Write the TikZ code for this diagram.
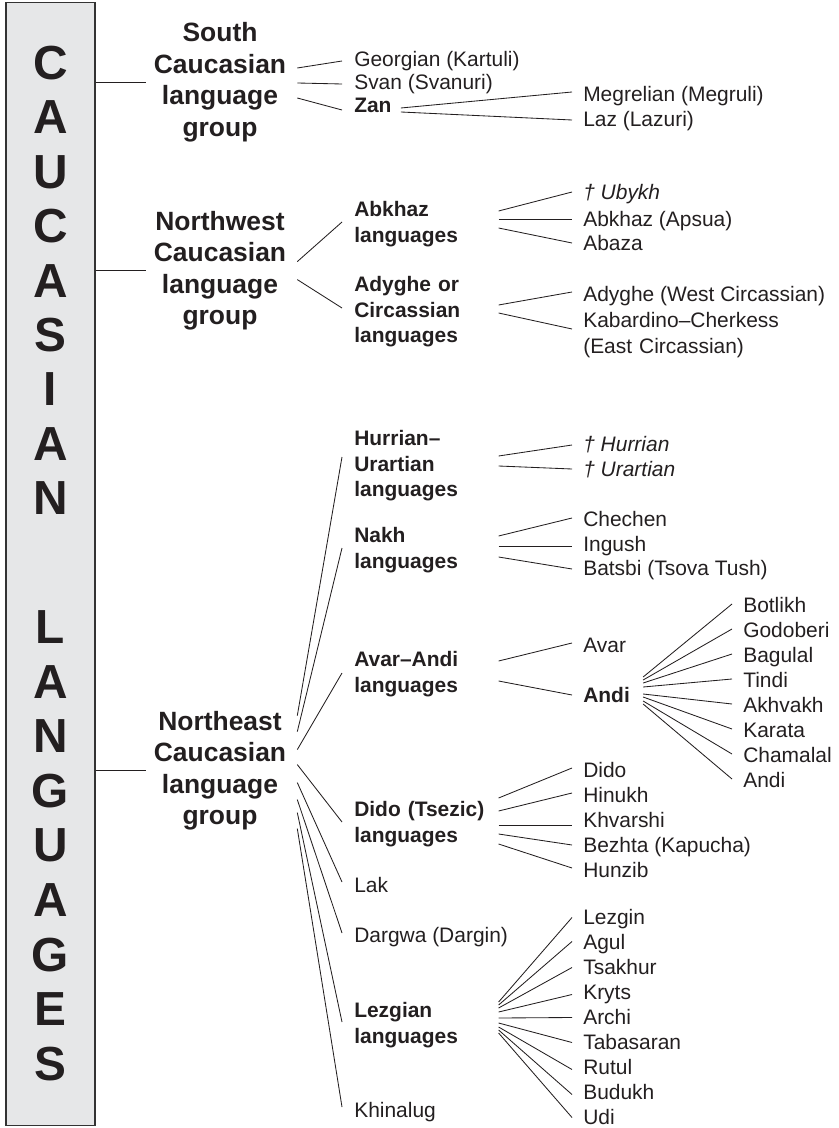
\documentclass[tikz,border=0pt]{standalone}
\usepackage{fontspec}
\setmainfont{Liberation Sans}
\usepackage{xcolor}
\usetikzlibrary{calc}

\definecolor{ink}{HTML}{231F20}
\definecolor{boxgray}{HTML}{E6E7E8}

\tikzset{
  letter/.style={font=\fontsize{34}{40}\selectfont\bfseries, text=ink, inner sep=0pt},
  grp/.style={font=\fontsize{18.8}{22.4}\selectfont\bfseries, text=ink, align=center, text width=3.6cm, inner sep=0pt},
  sub/.style={font=\fontsize{14.9}{18.1}\selectfont\bfseries, text=ink, align=left, text width=3.45cm, inner sep=0pt, anchor=west},
  lang/.style={font=\fontsize{14.9}{18.5}\selectfont, text=ink, inner sep=0pt, anchor=base west},
  blang/.style={lang, font=\fontsize{14.9}{18.5}\selectfont\bfseries},
  dead/.style={lang, font=\fontsize{14.9}{18.5}\selectfont\itshape},
  link/.style={line width=0.6pt, ink},
}

\begin{document}
\begin{tikzpicture}[x=0.025cm, y=-0.025cm]
            \useasboundingbox (0,0) rectangle (838,1128);

            % Draw the title box
            \node[draw=black!80, fill=boxgray, line width=0.8pt, minimum width=2.225cm, minimum height=28.05cm, inner sep=0pt] (box) at (50.5,564) {};
            \foreach \ch [count=\i from 0] in {C,A,U,C,A,S,I,A,N}
                \node[letter] (w\i) at (50.5,{63+54.4*\i}) {\ch};
            \foreach \ch [count=\i from 0] in {L,A,N,G,U,A,G,E,S}
                \node[letter] (v\i) at (50.5,{627+54.6*\i}) {\ch};

            % Draw the three groups
            \node[grp] (sc) at (220,82) {South\\Caucasian\\language\\group};
            \node[grp] (nw) at (220,270.6) {Northwest\\Caucasian\\language\\group};
            \node[grp] (ne) at (220,770.6) {Northeast\\Caucasian\\language\\group};
            \foreach \g in {sc,nw,ne}
                \draw[link] (box.east |- \g.west) -- ($(\g.west)+(-2,0)$);

            % South Caucasian
            \node[lang] (geo) at (354,67) {Georgian (Kartuli)};
            \node[lang] (svan) at (354,90) {Svan (Svanuri)};
            \node[blang] (zan) at (354,113) {Zan};
            \foreach \c/\a/\b in {geo/-14/-6, svan/1/-6, zan/16/-3}
                \draw[link] ($(sc.east)+(5,\a)$) -- ($(\c.base west)+(-12,\b)$);

            \node[lang] (meg) at (583,102) {Megrelian (Megruli)};
            \node[lang] (laz) at (583,127) {Laz (Lazuri)};
            \foreach \c/\a/\b in {meg/-5/-10, laz/-1/-7}
                \draw[link] ($(zan.base east)+(9,\a)$) -- ($(\c.base west)+(-11,\b)$);

            % Northwest Caucasian
            \node[sub] (abk) at (354,224) {Abkhaz\\languages};
            \node[sub] (ady) at (354,312) {Adyghe or\\Circassian\\languages};
            \foreach \c/\a/\b in {abk/-9/-2, ady/9/-4}
                \draw[link] ($(nw.east)+(5,\a)$) -- ($(\c.west)+(-12,\b)$);

            \node[dead] (uby) at (583,200) {† Ubykh};
            \node[lang] (aps) at (583,227) {Abkhaz (Apsua)};
            \node[lang] (abz) at (583,251) {Abaza};
            \foreach \c/\a in {uby/-13, aps/-5, abz/4}
                \draw[link] ($(abk.east)+(6,\a)$) -- ($(\c.base west)+(-11,-8)$);

            \node[lang] (adw) at (583,302) {Adyghe (West Circassian)};
            \node[lang, text width=5cm, align=left] (kab) at (583,327) {Kabardino--Cherkess\\(East Circassian)};
            \foreach \c/\a/\b in {adw/-7/-10, kab/1/2}
                \draw[link] ($(ady.east)+(6,\a)$) -- ($(\c.base west)+(-11,\b)$);

            % Northeast Caucasian
            \node[sub] (hur) at (354,466) {Hurrian--\\Urartian\\languages};
            \node[sub] (nakh) at (354,550) {Nakh\\languages};
            \node[sub] (avan) at (354,674) {Avar--Andi\\languages};
            \node[sub] (dido) at (354,824) {Dido (Tsezic)\\languages};
            \node[lang] (lak) at (354,892) {Lak};
            \node[lang] (darg) at (354,942) {Dargwa (Dargin)};
            \node[sub] (lez) at (354,1025) {Lezgian\\languages};
            \node[lang] (khin) at (354,1117) {Khinalug};
            \foreach \c/\a/\b in {hur.west/-55/-9, nakh.west/-39/-2, avan.west/-21/-1, dido.west/-6/-2, lak.base west/12/-10, darg.base west/29/-9, lez.west/42/-3, khin.base west/58/-10}
                \draw[link] ($(ne.east)+(5,\a)$) -- ($(\c)+(-12,\b)$);

            \node[dead] (hurr) at (583,451) {† Hurrian};
            \node[dead] (urar) at (583,476) {† Urartian};
            \foreach \c/\a/\b in {hurr/-10/-6, urar/0/-7}
                \draw[link] ($(hur.east)+(6,\a)$) -- ($(\c.base west)+(-11,\b)$);

            \node[lang] (chec) at (583,526) {Chechen};
            \node[lang] (ingu) at (583,551) {Ingush};
            \node[lang] (bats) at (583,575) {Batsbi (Tsova Tush)};
            \foreach \c/\a/\b in {chec/-14/-8, ingu/-4/-5, bats/7/-6}
                \draw[link] ($(nakh.east)+(6,\a)$) -- ($(\c.base west)+(-11,\b)$);

            \node[lang] (avar) at (583,652) {Avar};
            \node[blang] (andi) at (583,702) {Andi};
            \foreach \c/\a/\b in {avar/-13/-9, andi/7/-7}
                \draw[link] ($(avan.east)+(6,\a)$) -- ($(\c.base west)+(-11,\b)$);

            % Andi languages
            \foreach \n [count=\i from 0] in {Botlikh,Godoberi,Bagulal,Tindi,Akhvakh,Karata,Chamalal,Andi}
                \node[lang] (an\i) at (743,{612+25*\i}) {\n};
            \foreach \a [count=\i from 0] in {-25,-22,-19,-15,-8,-5,-1,2}
                \draw[link] ($(andi.base east)+(13,\a)$) -- ($(an\i.base west)+(-11,-8)$);

            % Dido languages
            \foreach \n [count=\i from 0] in {Dido,Hinukh,Khvarshi,Bezhta (Kapucha),Hunzib}
                \node[lang] (di\i) at (583,{777+25*\i}) {\n};
            \foreach \a/\b [count=\i from 0] in {-26/-9, -13/-9, 1/-2, 10/-7, 20/-9}
                \draw[link] ($(dido.east)+(6,\a)$) -- ($(di\i.base west)+(-11,\b)$);

            % Lezgian languages
            \foreach \n [count=\i from 0] in {Lezgin,Agul,Tsakhur,Kryts,Archi,Tabasaran,Rutul,Budukh,Udi}
                \node[lang] (lz\i) at (583,{924.5+25*\i}) {\n};
            \foreach \a/\b [count=\i from 0] in {-23/-7, -20/-8, -17/-7, -13/-5, -7/-7, -2/-7, 2/-5, 5/-5, 8/-7}
                \draw[link] ($(lez.east)+(6,\a)$) -- ($(lz\i.base west)+(-11,\b)$);

        \end{tikzpicture}
\end{document}
